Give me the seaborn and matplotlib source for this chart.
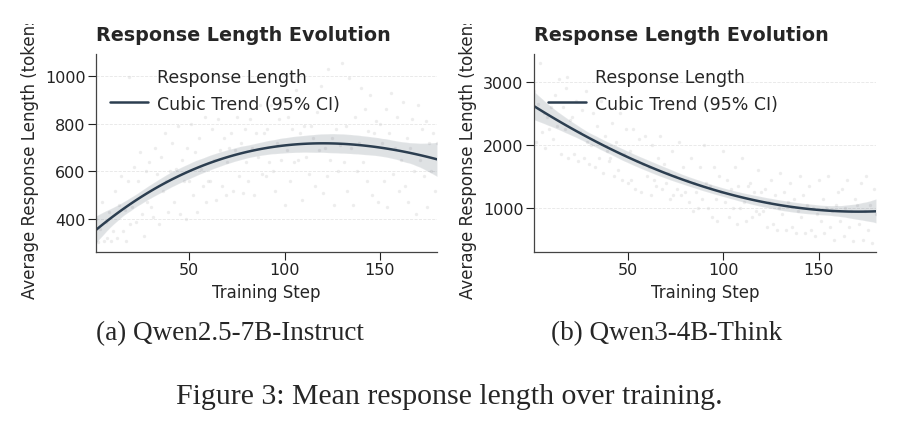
import numpy as np
import pandas as pd
import matplotlib
matplotlib.use("Agg")
import matplotlib.pyplot as plt
from matplotlib.transforms import Bbox, TransformedBbox
import seaborn as sns

# training steps 1..180
steps = list(range(1, 181))

# mean response length per step, Qwen2.5-7B-Instruct
len_qwen25 = [
    400, 305, 360, 470, 310, 390, 320, 430, 310, 350,
    520, 320, 460, 580, 350, 440, 310, 560, 380, 450,
    620, 390, 560, 680, 420, 330, 600, 470, 640, 450,
    410, 700, 590, 380, 660, 520, 760, 560, 430, 600,
    720, 470, 610, 790, 420, 650, 560, 400, 700, 560,
    800, 500, 680, 430, 740, 610, 540, 830, 470, 560,
    560, 780, 650, 480, 820, 690, 540, 740, 500, 640,
    700, 760, 520, 690, 830, 580, 720, 510, 780, 640,
    560, 820, 700, 500, 760, 660, 880, 590, 760, 580,
    780, 640, 880, 600, 520, 720, 820, 650, 900, 460,
    690, 830, 560, 780, 640, 940, 650, 760, 480, 790,
    660, 880, 590, 790, 740, 540, 850, 690, 960, 510,
    700, 580, 1030, 650, 740, 460, 780, 600, 710, 1055,
    640, 790, 520, 990, 700, 460, 830, 600, 720, 950,
    640, 860, 560, 770, 920, 500, 760, 810, 470, 800,
    720, 560, 860, 450, 760, 930, 590, 700, 830, 520,
    650, 890, 540, 740, 470, 700, 820, 600, 420, 880,
    650, 780, 580, 810, 450, 720, 600, 760, 520, 720,
]

# mean response length per step, Qwen3-4B-Think
len_qwen3 = [
    2850, 2050, 2650, 3300, 2200, 2500, 1950, 2450, 2250, 2600,
    2100, 2800, 2300, 3050, 1850, 2600, 2250, 2900, 1800, 2400,
    2450, 1850, 2700, 1750, 2200, 2550, 1800, 2850, 2050, 1700,
    2000, 2500, 1650, 2300, 1800, 2700, 1550, 2150, 1900, 1750,
    1800, 2350, 1500, 2050, 1600, 2500, 1450, 1850, 2250, 1400,
    1900, 1450, 2250, 1300, 1750, 2100, 1250, 1700, 2150, 1500,
    1650, 1200, 2000, 1450, 1350, 1800, 2150, 1300, 1700, 1400,
    1550, 1150, 1900, 1200, 1500, 1300, 2050, 1200, 1650, 1250,
    1450, 1100, 1800, 950, 1400, 1250, 1000, 1650, 1150, 2000,
    1400, 1000, 1350, 850, 1650, 1150, 800, 1500, 1250, 1900,
    1100, 1450, 850, 1300, 1000, 1650, 750, 1350, 1000, 1800,
    1100, 800, 1350, 1400, 850, 1250, 950, 1600, 900, 1250,
    950, 1300, 700, 1100, 1450, 750, 1200, 650, 1000, 1550,
    900, 1250, 650, 1100, 1400, 700, 1150, 600, 950, 1500,
    850, 1200, 600, 1050, 1350, 650, 1000, 550, 900, 1450,
    800, 1150, 600, 1000, 1500, 700, 950, 500, 1050, 1250,
    800, 1300, 550, 1000, 1450, 700, 950, 480, 1150, 1050,
    750, 1400, 500, 950, 1500, 650, 1050, 445, 1300, 900,
]

captions = ["(a) Qwen2.5-7B-Instruct", "(b) Qwen3-4B-Think"]
fig_caption = "Figure 3: Mean response length over training."
yticks = [[400, 600, 800, 1000], [1000, 2000, 3000]]

sns.set_style("ticks")
plt.rcParams["font.family"] = ["DejaVu Sans"]

navy = "#2c3e50"
W, H = 899, 427
fig = plt.figure(figsize=(W / 100, H / 100), dpi=100)

axes_px = [(96, 437), (534, 876)]
caption_x = [230, 667]
# the y label runs past the top of each subfigure image and is cut there
clip = TransformedBbox(Bbox.from_extents(0, 0, 1, 1 - 25 / H), fig.transFigure)

for i, vals in enumerate([len_qwen25, len_qwen3]):
    x0, x1 = axes_px[i]
    ax = fig.add_axes([x0 / W, 1 - 253 / H, (x1 - x0) / W, 198 / H])
    df = pd.DataFrame({"step": steps, "length": vals})
    sns.regplot(data=df, x="step", y="length", order=3, ci=95, seed=0, ax=ax,
                color=navy, truncate=True, label="Response Length",
                scatter_kws=dict(color="#d4d4d4", alpha=0.4, s=6, linewidths=0),
                line_kws=dict(lw=1.8, label="Cubic Trend (95% CI)"))
    ax.set_xlim(min(steps), max(steps))
    ax.margins(y=0.05)
    ax.autoscale(axis="y")
    ax.set_xticks([50, 100, 150])
    ax.set_yticks(yticks[i])
    ax.yaxis.grid(True, linestyle="--", color="#e6e6e6", lw=0.6)
    ax.set_axisbelow(True)
    for s in ["top", "right"]:
        ax.spines[s].set_visible(False)
    for s in ["left", "bottom"]:
        ax.spines[s].set_color("#444444")
        ax.spines[s].set_linewidth(0.9)
    ax.tick_params(colors="#222222", labelsize=11.5, length=5.5, width=0.8, pad=2)
    ax.set_title("Response Length Evolution", loc="left", fontsize=13.8,
                 fontweight="bold", pad=10)
    ax.set_xlabel("Training Step", fontsize=12, labelpad=4)
    ax.set_ylabel("Average Response Length (tokens)", fontsize=12)
    lab = ax.yaxis.label
    lab.set_clip_on(True)
    lab.set_clip_box(clip)
    ax.legend(loc="upper left", frameon=False, fontsize=12.5,
              handlelength=2.2, handletextpad=0.5, borderaxespad=0.4)
    fig.text(caption_x[i] / W, 1 - 334 / H, captions[i],
             family="Liberation Serif", fontsize=19.5, ha="center", va="center")

fig.text(449 / W, 1 - 397 / H, fig_caption, family="Liberation Serif",
         fontsize=21.5, ha="center", va="center")

fig.savefig("out.png", dpi=100)
